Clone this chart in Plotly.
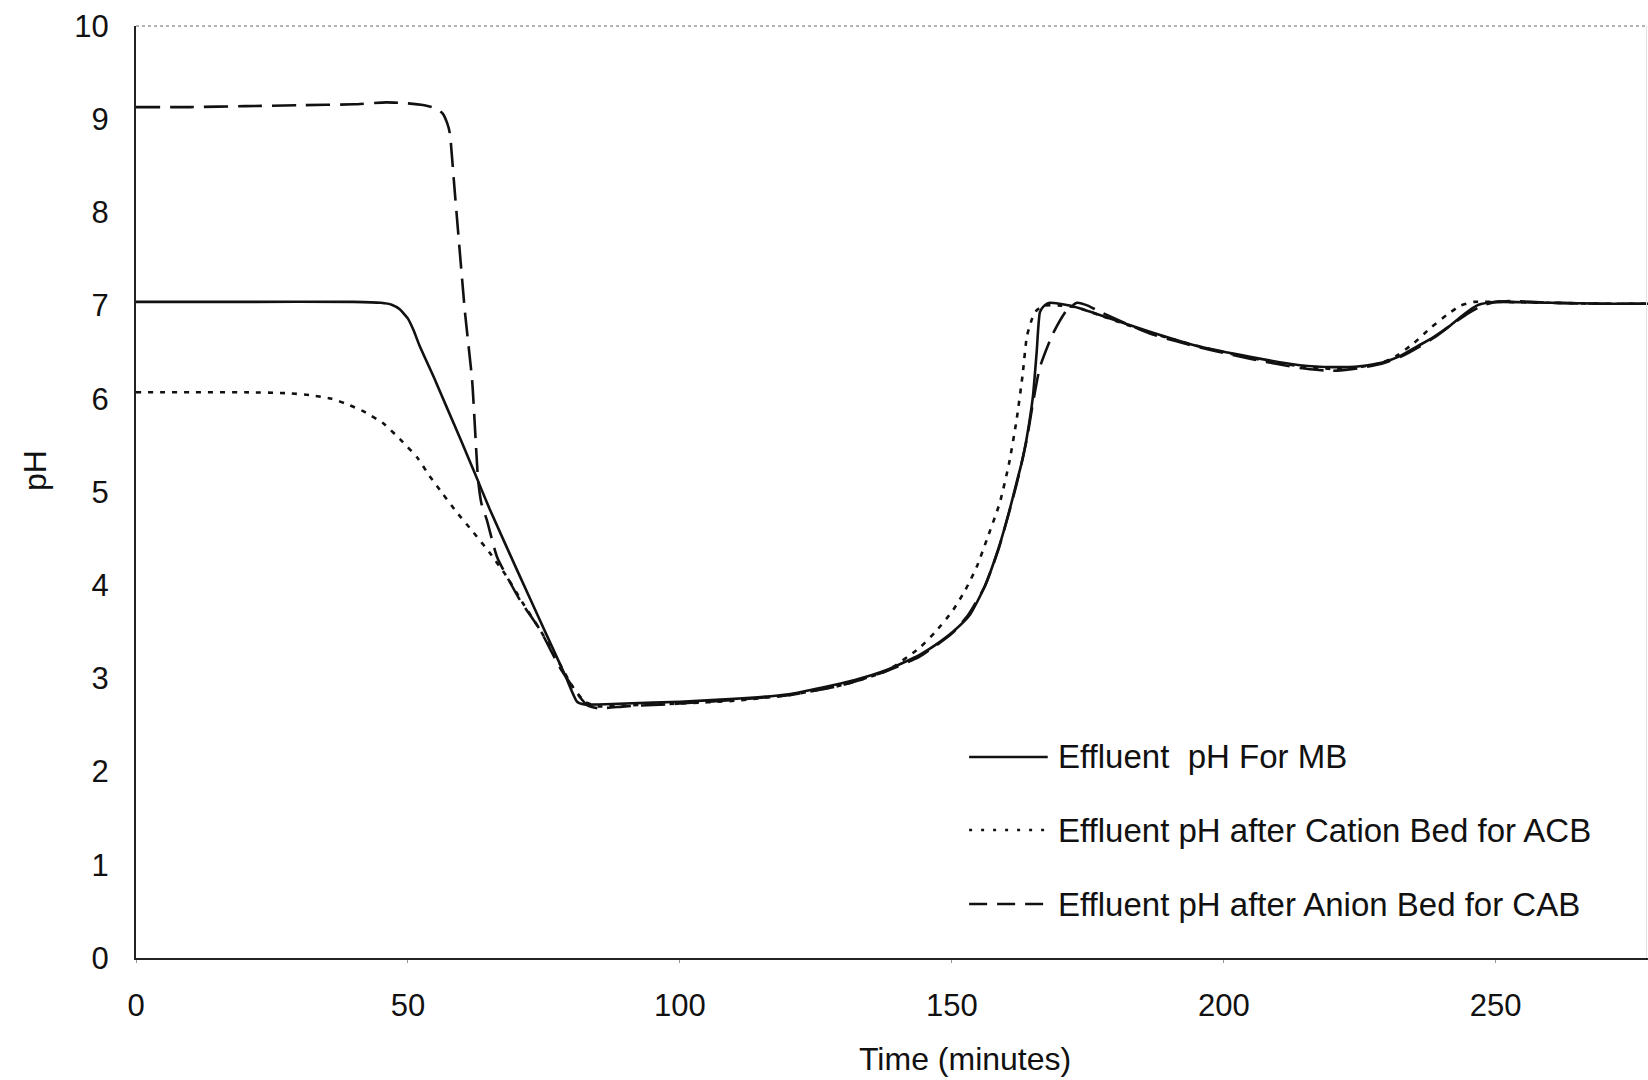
import plotly.graph_objects as go

# Effluent pH over time for the three bed configurations
mb_time = [0, 20, 40, 45, 47, 48.5, 50, 51, 52.2, 55, 57.2, 60, 62.3, 65, 70, 75, 79, 81.1, 82.5,
           85, 90, 100, 110, 120, 126, 132, 138, 144, 148, 150.2, 153.3, 156, 158.5, 160.5, 161.9,
           163, 163.8, 164.9, 165.6, 166.2, 167, 168, 171.7, 177.2, 186.4, 195.6, 204.8, 214, 220,
           225, 229.2, 232.5, 235.5, 238.5, 241.5, 244, 246.5, 248.5, 250.7, 260, 270, 278]
mb_ph = [7.04, 7.04, 7.04, 7.03, 7.01, 6.96, 6.86, 6.74, 6.56, 6.2, 5.9, 5.52, 5.2, 4.82, 4.17,
         3.53, 3.02, 2.75, 2.72, 2.72, 2.73, 2.75, 2.78, 2.83, 2.9, 2.98, 3.09, 3.25, 3.4, 3.5,
         3.68, 3.98, 4.38, 4.78, 5.1, 5.35, 5.59, 6.02, 6.5, 6.93, 7.0, 7.03, 7.0, 6.9, 6.72, 6.56,
         6.45, 6.36, 6.34, 6.35, 6.39, 6.46, 6.56, 6.66, 6.78, 6.9, 7.0, 7.03, 7.04, 7.03, 7.02, 7.02]

acb_time = [0, 10, 20, 28, 32, 36, 39.3, 42, 45.4, 48.5, 51.7, 54, 56.4, 59, 62, 65, 68.2, 71,
            74.3, 77.5, 80.3, 82.5, 85, 90, 100, 110, 120, 130, 138, 144.1, 147, 150.2, 152.5,
            154.6, 156.5, 158.8, 160.5, 161.9, 163, 163.8, 164.7, 165.6, 167, 170, 173, 177,
            186.4, 195.6, 204.8, 214, 220, 225, 229.2, 232, 235, 238, 241, 243.5, 246, 250, 260,
            270, 278]
acb_ph = [6.07, 6.07, 6.07, 6.06, 6.04, 6.0, 5.93, 5.86, 5.74, 5.57, 5.37, 5.17, 4.98, 4.78,
          4.57, 4.35, 4.09, 3.82, 3.52, 3.2, 2.91, 2.75, 2.7, 2.71, 2.73, 2.76, 2.82, 2.93, 3.08,
          3.33, 3.5, 3.73, 3.95, 4.2, 4.5, 4.88, 5.3, 5.77, 6.25, 6.67, 6.85, 6.95, 7.0, 7.0, 6.98,
          6.9, 6.71, 6.56, 6.44, 6.35, 6.32, 6.34, 6.39, 6.47, 6.6, 6.76, 6.9, 7.0, 7.04, 7.04,
          7.03, 7.02, 7.02]

cab_time = [0, 10, 20, 30, 40, 46, 50, 53, 55, 56.4, 57.2, 57.7, 58.5, 59.2, 60.5, 61.8, 62.9,
            63.5, 64.5, 66.4, 70.6, 74.3, 77.9, 81.6, 83, 85, 90, 100, 110, 120, 130, 138, 144,
            150, 153, 156, 158.5, 161.9, 163.8, 164.9, 166.2, 168.6, 171.1, 173, 175, 177, 186.4,
            195.6, 204.8, 214, 220, 225, 229.2, 232.5, 236, 239, 242, 245, 247.5, 250, 253, 260,
            270, 278]
cab_ph = [9.13, 9.13, 9.14, 9.15, 9.16, 9.18, 9.17, 9.15, 9.12, 9.06, 8.96, 8.85, 8.3, 7.81, 6.92,
          6.2, 5.13, 4.88, 4.7, 4.3, 3.84, 3.52, 3.12, 2.8, 2.71, 2.68, 2.7, 2.73, 2.77, 2.82,
          2.93, 3.08, 3.23, 3.48, 3.68, 3.98, 4.37, 5.08, 5.57, 5.95, 6.34, 6.7, 6.95, 7.03, 7.0,
          6.94, 6.7, 6.55, 6.43, 6.33, 6.3, 6.33, 6.38, 6.45, 6.56, 6.67, 6.8, 6.92, 7.0, 7.04,
          7.05, 7.03, 7.02, 7.02]

legend_labels = ["Effluent  pH For MB",
                 "Effluent pH after Cation Bed for ACB",
                 "Effluent pH after Anion Bed for CAB"]

x_ticks = [0, 50, 100, 150, 200, 250]
y_ticks = list(range(0, 11))

FONT = "Liberation Sans, Arial, sans-serif"
INK = "#111111"

fig = go.Figure()
series = [
    (mb_time, mb_ph, "solid"),
    (acb_time, acb_ph, "5px,7px"),
    (cab_time, cab_ph, "24px,10px"),
]
for (t, ph, dash), name in zip(series, legend_labels):
    fig.add_trace(go.Scatter(
        x=t, y=ph, mode="lines", name=name, showlegend=False,
        line=dict(color=INK, width=2.6, dash=dash, shape="spline", smoothing=0.5),
    ))

# hand-placed key in the lower right of the plot area
key_rows_y = [0.2157, 0.1373, 0.0579]
key_dash = ["solid", "3px,9px", "18px,10px"]
for label, yy, dash in zip(legend_labels, key_rows_y, key_dash):
    fig.add_shape(type="line", xref="paper", yref="paper",
                  x0=0.551, x1=0.603, y0=yy, y1=yy,
                  line=dict(color=INK, width=2.4, dash=dash))
    fig.add_annotation(xref="paper", yref="paper", x=0.6085, y=yy, text=label,
                       showarrow=False, xanchor="left", yanchor="middle",
                       font=dict(family=FONT, size=33, color=INK))

# faint top and right borders of the frame
fig.add_shape(type="line", xref="paper", yref="paper", x0=0, x1=1, y0=1, y1=1,
              line=dict(color="#9a9a9a", width=1.5, dash="dot"))
fig.add_shape(type="line", xref="paper", yref="paper", x0=0.999, x1=0.999, y0=0, y1=1,
              line=dict(color="#e2e2e2", width=1))

fig.add_annotation(xref="paper", yref="paper", x=0.548, y=-0.108, text="Time (minutes)",
                   showarrow=False, xanchor="center", yanchor="middle",
                   font=dict(family=FONT, size=32, color=INK))
fig.add_annotation(xref="paper", yref="paper", x=-0.0668, y=0.5236, text="pH",
                   textangle=-90, showarrow=False, xanchor="center", yanchor="middle",
                   font=dict(family=FONT, size=32, color=INK))

fig.update_layout(
    width=1648, height=1080,
    margin=dict(l=136, r=0, t=26, b=122),
    paper_bgcolor="white", plot_bgcolor="white",
    font=dict(family=FONT, color=INK),
    showlegend=False,
)
fig.update_xaxes(range=[0, 278], tickvals=x_ticks, showgrid=False, zeroline=False,
                 showline=True, linecolor="#222222", linewidth=2,
                 ticks="outside", ticklen=3, tickcolor="#999999",
                 ticklabelstandoff=16, tickfont=dict(size=31, family=FONT, color=INK))
fig.update_yaxes(range=[0, 10], tickvals=y_ticks, showgrid=False, zeroline=False,
                 showline=True, linecolor="#222222", linewidth=2, ticks="",
                 ticklabelstandoff=19, tickfont=dict(size=31, family=FONT, color=INK))

fig.write_html("out.html")
